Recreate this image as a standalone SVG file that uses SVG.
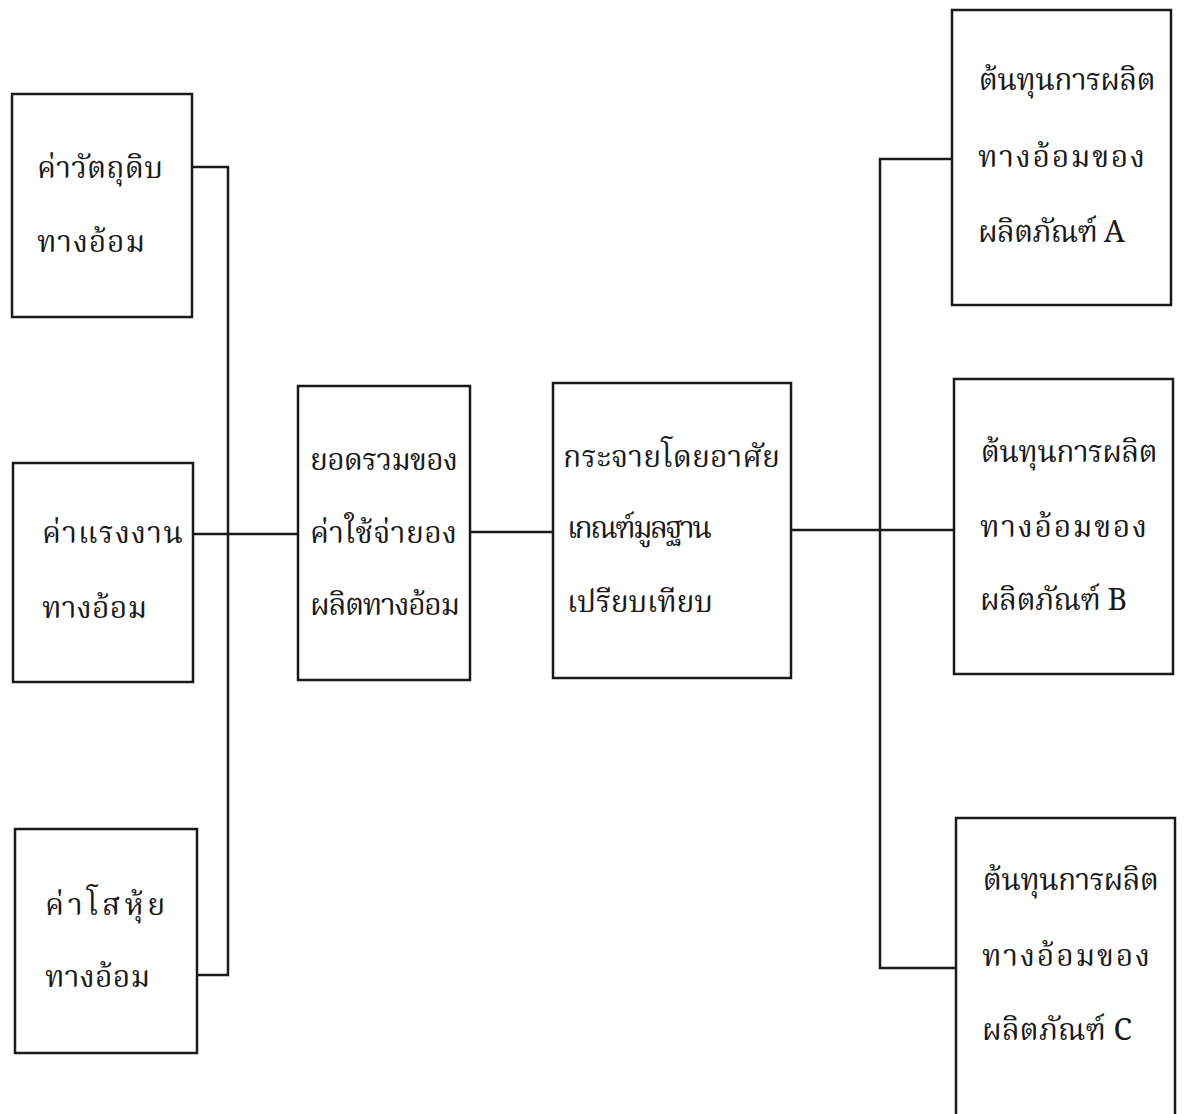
<svg xmlns="http://www.w3.org/2000/svg" width="1186" height="1114" viewBox="0 0 1186 1114">
<style>
.box{fill:none;stroke:#1a1a1a;stroke-width:2.5}
.wire{fill:none;stroke:#1a1a1a;stroke-width:2.5}
.t{font-family:"Noto Serif Thai","Noto Sans Thai","Loma","Garuda","DejaVu Sans",sans-serif;font-size:30px;fill:#1a1a1a}
</style>
<rect width="1186" height="1114" fill="#ffffff"/>
<g id="connectors">
<path class="wire" d="M192,167 H228 V975 H197"/>
<path class="wire" d="M193,534 H298"/>
<path class="wire" d="M470,532 H553"/>
<path class="wire" d="M791,530 H954"/>
<path class="wire" d="M952,159 H880 V968 H956"/>
</g>
<g id="n1">
<rect class="box" x="12" y="94" width="180" height="223"/>
<text class="t" x="37" y="178" textLength="126" lengthAdjust="spacing">ค่าวัตถุดิบ</text>
<text class="t" x="37" y="252" textLength="108" lengthAdjust="spacing">ทางอ้อม</text>
</g>
<g id="n2">
<rect class="box" x="13" y="463" width="180" height="219"/>
<text class="t" x="42" y="543" textLength="141" lengthAdjust="spacing">ค่าแรงงาน</text>
<text class="t" x="42" y="618" textLength="105" lengthAdjust="spacing">ทางอ้อม</text>
</g>
<g id="n3">
<rect class="box" x="15" y="829" width="182" height="224"/>
<text class="t" x="45" y="915" style="letter-spacing:4px">ค่าโสหุ้ย</text>
<text class="t" x="45" y="987" textLength="105" lengthAdjust="spacing">ทางอ้อม</text>
</g>
<g id="n4">
<rect class="box" x="298" y="386" width="172" height="294"/>
<text class="t" x="310" y="470" textLength="148" lengthAdjust="spacing">ยอดรวมของ</text>
<text class="t" x="310" y="543" textLength="147" lengthAdjust="spacing">ค่าใช้จ่ายอง</text>
<text class="t" x="310" y="615" textLength="150" lengthAdjust="spacing">ผลิตทางอ้อม</text>
</g>
<g id="n5">
<rect class="box" x="553" y="383" width="238" height="295"/>
<text class="t" x="563" y="467" textLength="217" lengthAdjust="spacing">กระจายโดยอาศัย</text>
<text class="t" x="567" y="538" textLength="145" lengthAdjust="spacing">เกณฑ์มูลฐาน</text>
<text class="t" x="567" y="612" textLength="146" lengthAdjust="spacing">เปรียบเทียบ</text>
</g>
<g id="n6">
<rect class="box" x="952" y="10" width="219" height="295"/>
<text class="t" x="978" y="90" textLength="177" lengthAdjust="spacing">ต้นทุนการผลิต</text>
<text class="t" x="978" y="167" textLength="167" lengthAdjust="spacing">ทางอ้อมของ</text>
<text class="t" x="978" y="242" textLength="147" lengthAdjust="spacing">ผลิตภัณฑ์ A</text>
</g>
<g id="n7">
<rect class="box" x="954" y="379" width="219" height="295"/>
<text class="t" x="980" y="462" textLength="177" lengthAdjust="spacing">ต้นทุนการผลิต</text>
<text class="t" x="980" y="537" textLength="167" lengthAdjust="spacing">ทางอ้อมของ</text>
<text class="t" x="980" y="610" textLength="147" lengthAdjust="spacing">ผลิตภัณฑ์ B</text>
</g>
<g id="n8">
<rect class="box" x="956" y="818" width="219" height="310"/>
<text class="t" x="982" y="890" textLength="176" lengthAdjust="spacing">ต้นทุนการผลิต</text>
<text class="t" x="982" y="966" textLength="168" lengthAdjust="spacing">ทางอ้อมของ</text>
<text class="t" x="982" y="1040" textLength="150" lengthAdjust="spacing">ผลิตภัณฑ์ C</text>
</g>
</svg>
